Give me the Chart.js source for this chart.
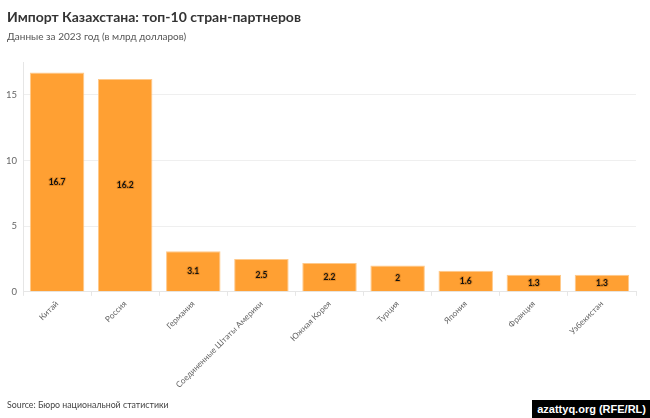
<!DOCTYPE html>
<html>
<head>
<meta charset="utf-8">
<script src="https://cdn.jsdelivr.net/npm/chart.js@4"></script>
<style>
    body { margin: 0; width: 650px; height: 418px; background: #fff; font-family: Lato, sans-serif; overflow: hidden; }
    .wrap { position: relative; width: 650px; height: 418px; }
    .title { position: absolute; left: 7px; top: 8px; font-size: 14px; font-weight: bold; color: #333; }
    .subtitle { position: absolute; left: 7px; top: 30px; font-size: 10px; color: #555; }
    .source { position: absolute; left: 7px; top: 399px; font-size: 8.8px; color: #444; }
    .mark { position: absolute; right: 0; bottom: 0; background: #000; color: #fff; font-family: "Liberation Sans", Arial, sans-serif; font-weight: bold; font-size: 11px; padding: 3px 4px 3px 5px; }
    canvas { position: absolute; left: 0; top: 0; }
</style>
</head>
<body>
<div class="wrap">
    <canvas id="barChart" width="650" height="418"></canvas>
    <div class="title">Импорт Казахстана: топ-10 стран-партнеров</div>
    <div class="subtitle">Данные за 2023 год (в млрд долларов)</div>
    <div class="source">Source: Бюро национальной статистики</div>
    <div class="mark">azattyq.org (RFE/RL)</div>
</div>
<script>
//============================================= Data =============================================//
const countries = ['Китай', 'Россия', 'Германия', 'Соединенные Штаты Америки', 'Южная Корея', 'Турция', 'Япония', 'Франция', 'Узбекистан'];
const importValues = [16.7, 16.2, 3.1, 2.5, 2.2, 2, 1.6, 1.3, 1.3];
const yTicks = [0, 5, 10, 15];

//============================================= Value labels =============================================//
const barValueLabel = {
    id: 'barValueLabel',
    afterDatasetsDraw(chart) {
        const { ctx } = chart;
        const meta = chart.getDatasetMeta(0);
        ctx.save();
        ctx.font = 'bold 8.5px Lato, sans-serif';
        ctx.textAlign = 'center';
        ctx.textBaseline = 'middle';
        ctx.lineJoin = 'round';
        meta.data.forEach((bar, i) => {
            const y = (bar.y + bar.base) / 2;
            ctx.lineWidth = 2;
            ctx.strokeStyle = 'rgba(220,130,30,0.8)';
            ctx.strokeText(importValues[i], bar.x, y);
            ctx.fillStyle = '#111';
            ctx.fillText(importValues[i], bar.x, y);
        });
        ctx.restore();
    }
};

//============================================= Bar chart =============================================//
const barConfig = {
    type: 'bar',
    data: {
        labels: countries,
        datasets: [{
            data: importValues,
            backgroundColor: '#ffa033',
            borderColor: '#ffc98a',
            borderWidth: 1,
            categoryPercentage: 0.8,
            barPercentage: 1
        }]
    },
    options: {
        responsive: false,
        animation: false,
        layout: {
            padding: { top: 62, left: 0, right: 14, bottom: 25 }
        },
        plugins: {
            legend: { display: false },
            tooltip: { enabled: false }
        },
        scales: {
            x: {
                grid: { display: true, drawOnChartArea: false, tickLength: 4, color: '#e6e6e6' },
                border: { color: '#e6e6e6' },
                ticks: {
                    color: '#666',
                    minRotation: 45,
                    maxRotation: 45,
                    padding: 3,
                    font: { size: 8.3, family: 'Lato, sans-serif' }
                }
            },
            y: {
                min: 0,
                max: 17.5,
                afterBuildTicks: (axis) => { axis.ticks = yTicks.map(v => ({ value: v })); },
                grid: { color: '#efefef', drawTicks: false },
                border: { display: true, color: '#e6e6e6' },
                ticks: {
                    color: '#666',
                    padding: 6,
                    font: { size: 9.5, family: 'Lato, sans-serif' }
                }
            }
        }
    },
    plugins: [barValueLabel]
};

new Chart(document.getElementById('barChart'), barConfig);
</script>
</body>
</html>
